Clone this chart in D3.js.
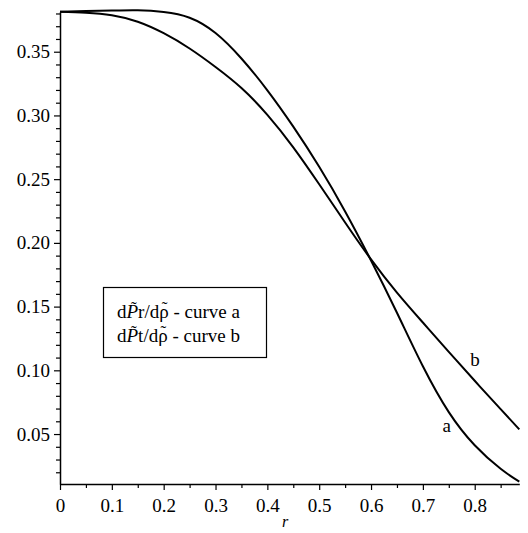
<!DOCTYPE html>
<html>
<head>
<meta charset="utf-8">
<script src="https://cdn.jsdelivr.net/npm/d3@7"></script>
<style>
  html, body { margin: 0; padding: 0; background: #fff; }
  svg { display: block; }
  svg text { font-family: "Liberation Serif", "Times New Roman", serif !important; fill: #000; }
</style>
</head>
<body>
<svg id="chart" width="528" height="533"></svg>
<script>
// ---- data ----
const rValues = [0, 0.05, 0.1, 0.15, 0.2, 0.25, 0.3, 0.35, 0.4, 0.45, 0.5, 0.55, 0.6, 0.65, 0.7, 0.75, 0.8, 0.85, 0.886];
// curve a: dP~r/dρ~
const curveA  = [0.3814, 0.3819, 0.3823, 0.3825, 0.3812, 0.3767, 0.3647, 0.3447, 0.3197, 0.2912, 0.2597, 0.2247, 0.1862, 0.1452, 0.1032, 0.0672, 0.0412, 0.0227, 0.0127];
// curve b: dP~t/dρ~
const curveB  = [0.3814, 0.3806, 0.3786, 0.3735, 0.3645, 0.3525, 0.3380, 0.3215, 0.3005, 0.2750, 0.2460, 0.2160, 0.1870, 0.1610, 0.1375, 0.1145, 0.0918, 0.0695, 0.0537];
const xTicks = [0, 0.1, 0.2, 0.3, 0.4, 0.5, 0.6, 0.7, 0.8];
const yTicks = [0.05, 0.10, 0.15, 0.20, 0.25, 0.30, 0.35];
const xDomain = [0, 0.886];
const yDomain = [0.0108, 0.3814];
const curveLabels = ["a", "b"];
const labelPos = [[0.7458, 0.0516], [0.8004, 0.1034]];
const axisTitle = "r";
const legendEntries = [
  { sub: "r", tail: " - curve a" },
  { sub: "t", tail: " - curve b" }
];

// ---- drawing ----
const FONT = '"Liberation Serif", "Times New Roman", serif';
const svg = d3.select("#chart");
const x = d3.scaleLinear().domain(xDomain).range([60, 519.3]);
const y = d3.scaleLinear().domain(yDomain).range([484, 11.7]);

// minor ticks
const xMinor = d3.range(0.05, 0.886, 0.1);
const yMinor = d3.range(2, 39).map(k => k / 100).filter(v => Math.round(v * 100) % 5 !== 0);

const axisG = svg.append("g");
axisG.append("g")
  .attr("transform", `translate(0,${y.range()[0]})`)
  .call(d3.axisBottom(x).tickValues(xMinor).tickSize(4).tickFormat(""))
  .call(g => g.select(".domain").remove())
  .selectAll("line").attr("stroke", "#000").attr("stroke-width", 1.2);
axisG.append("g")
  .attr("transform", `translate(${x.range()[0]},0)`)
  .call(d3.axisLeft(y).tickValues(yMinor).tickSize(4).tickFormat(""))
  .call(g => g.select(".domain").remove())
  .selectAll("line").attr("stroke", "#000").attr("stroke-width", 1.2);

const xAxis = axisG.append("g")
  .attr("transform", `translate(0,${y.range()[0]})`)
  .call(d3.axisBottom(x).tickValues(xTicks).tickSize(6).tickSizeOuter(0).tickPadding(9)
        .tickFormat(d => d === 0 ? "0" : d3.format(".1f")(d)));
xAxis.attr("font-family", FONT);
xAxis.select(".domain").attr("stroke", "#000").attr("stroke-width", 1.5);
xAxis.selectAll(".tick line").attr("stroke", "#000").attr("stroke-width", 1.2);
xAxis.selectAll(".tick text").attr("font-size", 19).style("font-family", FONT).attr("fill", "#000");

const yAxis = axisG.append("g")
  .attr("transform", `translate(${x.range()[0]},0)`)
  .call(d3.axisLeft(y).tickValues(yTicks).tickSize(6).tickSizeOuter(0).tickPadding(4)
        .tickFormat(d3.format(".2f")));
yAxis.attr("font-family", FONT);
yAxis.select(".domain").attr("stroke", "#000").attr("stroke-width", 1.5);
yAxis.selectAll(".tick line").attr("stroke", "#000").attr("stroke-width", 1.2);
yAxis.selectAll(".tick text").attr("font-size", 19).style("font-family", FONT).attr("fill", "#000");

svg.append("text")
  .attr("x", 285)
  .attr("y", 527)
  .attr("text-anchor", "middle")
  .attr("font-size", 16)
  .attr("font-style", "italic")
  .text(axisTitle);

// curves
const line = d3.line()
  .x((d, i) => x(rValues[i]))
  .y(d => y(d))
  .curve(d3.curveNatural);

[curveA, curveB].forEach(series => {
  svg.append("path")
    .datum(series)
    .attr("d", line)
    .attr("fill", "none")
    .attr("stroke", "#000")
    .attr("stroke-width", 2);
});

curveLabels.forEach((lab, i) => {
  svg.append("text")
    .attr("x", x(labelPos[i][0]))
    .attr("y", y(labelPos[i][1]))
    .attr("text-anchor", "middle")
    .attr("font-size", 19)
    .text(lab);
});

// legend
const leg = svg.append("g");
leg.append("rect")
  .attr("x", 103.5).attr("y", 287.5)
  .attr("width", 163).attr("height", 70)
  .attr("fill", "#fff").attr("stroke", "#000").attr("stroke-width", 1.2);

legendEntries.forEach((l, i) => {
  const base = 318 + i * 23.5;
  const t = leg.append("text")
    .attr("x", 117)
    .attr("y", base)
    .attr("font-size", 19);
  t.append("tspan").text("d");
  t.append("tspan").attr("font-style", "italic").text("P");
  t.append("tspan").text(l.sub + "/d");
  t.append("tspan").text("\u03C1");
  t.append("tspan").text(l.tail);
  // tildes over P (char 1) and ρ
  const node = t.node();
  const rhoIndex = 2 + (l.sub + "/d").length;
  [[1, 1.5], [rhoIndex, 0.5]].forEach(([ci, dx]) => {
    const ext = node.getExtentOfChar(ci);
    leg.append("text")
      .attr("x", ext.x + ext.width / 2 + dx)
      .attr("y", base - 5)
      .attr("text-anchor", "middle")
      .attr("font-size", 17)
      .text("\u02DC");
  });
});
</script>
</body>
</html>
